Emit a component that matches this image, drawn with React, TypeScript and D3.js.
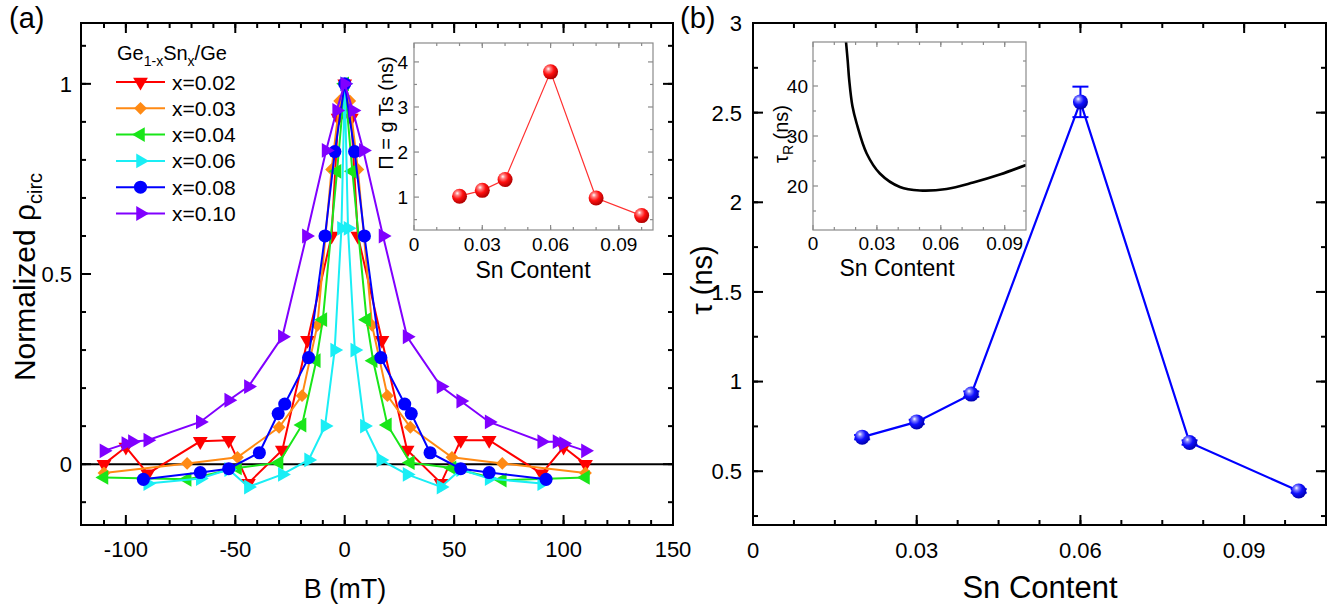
import React from 'react';
import * as d3 from 'd3';

// panel (a): field values (mT) and normalized rho_circ per Sn content
const bX02 = [-110, -100, -90, -66, -53, -44, -28.5, -17, -6, -3, 0, 3, 6, 17, 28.5, 44, 53, 66, 90, 100, 110];
const vX02 = [0, 0.045, -0.025, 0.06, 0.063, -0.05, 0.037, 0.326, 0.6, 0.91, 1.0, 0.91, 0.6, 0.326, 0.037, -0.05, 0.063, 0.063, -0.025, 0.045, 0];
const bX03 = [-110, -72, -49, -30, -19.5, -12.5, -6, -2.3, 0, 2.3, 6, 12.5, 19.5, 30, 49, 72, 110];
const vX03 = [-0.023, 0.002, 0.018, 0.097, 0.18, 0.365, 0.775, 0.955, 1.0, 0.955, 0.775, 0.365, 0.18, 0.097, 0.018, 0.002, -0.023];
const bX04 = [-110, -72, -49, -30, -19.5, -13, -10, -3.5, 0, 3.5, 10, 13, 19.5, 30, 49, 72, 110];
const vX04 = [-0.035, -0.04, -0.01, 0.004, 0.103, 0.272, 0.38, 0.77, 1.0, 0.77, 0.38, 0.272, 0.103, 0.004, -0.01, -0.042, -0.035];
const bX06 = [-90, -66, -53, -44, -28.5, -16.5, -9, -4.6, -1.5, 0, 1.5, 4.6, 9, 16.5, 28.5, 44, 53, 66, 90];
const vX06 = [-0.051, -0.038, -0.014, -0.06, -0.027, 0.011, 0.1, 0.3, 0.62, 1.0, 0.62, 0.3, 0.1, 0.011, -0.027, -0.06, -0.014, -0.038, -0.051];
const bX08 = [-92, -66, -53, -39, -30.4, -27.4, -16.5, -9, -4.5, 0, 4.5, 9, 16.5, 27.4, 30.4, 39, 53, 66, 92];
const vX08 = [-0.04, -0.022, -0.012, 0.03, 0.133, 0.158, 0.28, 0.6, 0.822, 1.0, 0.822, 0.6, 0.28, 0.158, 0.133, 0.03, -0.012, -0.022, -0.04];
const bX10 = [-110, -100, -97, -90, -66, -53, -44, -28.5, -17.5, -8.5, -3.7, 0, 3.7, 8.5, 17.5, 28.5, 44, 53, 66, 90, 97, 100, 110];
const vX10 = [0.035, 0.054, 0.059, 0.063, 0.111, 0.168, 0.204, 0.335, 0.6, 0.825, 0.93, 1.0, 0.93, 0.825, 0.6, 0.335, 0.204, 0.166, 0.111, 0.059, 0.059, 0.054, 0.035];

const legendNames = ['x=0.02', 'x=0.03', 'x=0.04', 'x=0.06', 'x=0.08', 'x=0.10'];

// inset (a)
const snContent = [0.02, 0.03, 0.04, 0.06, 0.08, 0.1];
const gammaTs = [1.02, 1.15, 1.39, 3.78, 0.98, 0.59];

// panel (b)
const tau = [0.69, 0.775, 0.93, 2.56, 0.66, 0.39];
const tauErr = [0.012, 0.012, 0.015, 0.085, 0.012, 0.01];

// inset (b) curve
const snR = [0.0155, 0.0163, 0.017, 0.0185, 0.0205, 0.0252, 0.0314, 0.0408, 0.0502, 0.0627, 0.0752, 0.0877, 0.1];
const tauR = [48.8, 45, 41.2, 36, 32.5, 26.5, 22.5, 19.8, 19.1, 19.4, 20.7, 22.3, 24.2];

// tick labels
const aXTicks = [-100, -50, 0, 50, 100, 150];
const aYTicks = [0, 0.5, 1];
const aYLabels = ['0', '0.5', '1'];
const snTicks = [0, 0.03, 0.06, 0.09];
const snLabels = ['0', '0.03', '0.06', '0.09'];
const bYTicks = [0.5, 1, 1.5, 2, 2.5, 3];
const bYLabels = ['0.5', '1', '1.5', '2', '2.5', '3'];
const iaYTicks = [1, 2, 3, 4];
const ibYTicks = [20, 30, 40];

const FONT = '"Liberation Sans", Arial, sans-serif';

const xA = d3.scaleLinear().domain([-120.5, 150]).range([81, 673]);
const yA = d3.scaleLinear().domain([-0.16, 1.16]).range([525, 23]);
const xIA = d3.scaleLinear().domain([0, 0.105]).range([414, 653]);
const yIA = d3.scaleLinear().domain([0.27, 4.42]).range([230, 43]);
const xB = d3.scaleLinear().domain([0, 0.105]).range([753, 1326]);
const yB = d3.scaleLinear().domain([0.2, 3.0]).range([525, 23]);
const xIB = d3.scaleLinear().domain([0, 0.1]).range([813, 1026]);
const yIB = d3.scaleLinear().domain([11.2, 48.8]).range([230, 42]);

const tri = d3.symbol(d3.symbolTriangle, 95)();
const dia = d3.symbol(d3.symbolSquare, 82)();
const circ = d3.symbol(d3.symbolCircle, 135)();

const series = [
  { b: bX02, v: vX02, color: '#ff0000', path: tri, rot: 180 },
  { b: bX03, v: vX03, color: '#ff8a14', path: dia, rot: 45 },
  { b: bX04, v: vX04, color: '#19e619', path: tri, rot: -90 },
  { b: bX06, v: vX06, color: '#1aeef5', path: tri, rot: 90 },
  { b: bX08, v: vX08, color: '#0000ff', path: circ, rot: 0 },
  { b: bX10, v: vX10, color: '#8000ff', path: tri, rot: 90 },
];

const Frame = ({ x, y, xMaj, xMin, yMaj, yMin, xLab, yLab, stroke, sw, majL, minL, fs, xLabY, yLabX }) => {
  const [x0, x1] = x.range();
  const [y0, y1] = y.range();
  const tk = { stroke, strokeWidth: sw };
  return (
    <g fontFamily={FONT}>
      <rect x={x0} y={y1} width={x1 - x0} height={y0 - y1} fill="none" stroke={stroke} strokeWidth={sw} />
      {xMin.map((v, i) => (
        <g key={'xm' + i} {...tk}>
          <line x1={x(v)} x2={x(v)} y1={y0} y2={y0 - minL} />
          <line x1={x(v)} x2={x(v)} y1={y1} y2={y1 + minL} />
        </g>
      ))}
      {xMaj.map((v, i) => (
        <g key={'xM' + i} {...tk}>
          <line x1={x(v)} x2={x(v)} y1={y0} y2={y0 - majL} />
          <line x1={x(v)} x2={x(v)} y1={y1} y2={y1 + majL} />
        </g>
      ))}
      {yMin.map((v, i) => (
        <g key={'ym' + i} {...tk}>
          <line y1={y(v)} y2={y(v)} x1={x0} x2={x0 + minL} />
          <line y1={y(v)} y2={y(v)} x1={x1} x2={x1 - minL} />
        </g>
      ))}
      {yMaj.map((v, i) => (
        <g key={'yM' + i} {...tk}>
          <line y1={y(v)} y2={y(v)} x1={x0} x2={x0 + majL} />
          <line y1={y(v)} y2={y(v)} x1={x1} x2={x1 - majL} />
        </g>
      ))}
      {xMaj.map((v, i) => (
        <text key={'xl' + i} x={x(v)} y={xLabY} fontSize={fs} textAnchor="middle" fill="#000">{xLab[i]}</text>
      ))}
      {yMaj.map((v, i) => (
        <text key={'yl' + i} x={yLabX} y={y(v)} dy="0.36em" fontSize={fs} textAnchor="end" fill="#000">{yLab[i]}</text>
      ))}
    </g>
  );
};

const Sphere = ({ cx, cy, r, id }) => <circle cx={cx} cy={cy} r={r} fill={`url(#${id})`} />;

export default function App() {
  const lineA = d3.line<number>();
  const inLine = d3.line<number>().x((d, i) => xIA(snContent[i])).y((d) => yIA(d));
  const bLine = d3.line<number>().x((d, i) => xB(snContent[i])).y((d) => yB(d));
  const rLine = d3.line<number>().x((d, i) => xIB(snR[i])).y((d) => yIB(d)).curve(d3.curveCatmullRom.alpha(0.5));

  return (
    <div style={{ position: 'absolute', left: 0, top: 0 }}>
      <svg width={1340} height={611} style={{ display: 'block', background: '#fff' }}>
        <defs>
          <radialGradient id="sphRed" cx="38%" cy="35%" r="65%" fx="35%" fy="30%">
            <stop offset="0%" stopColor="#ffffff" />
            <stop offset="22%" stopColor="#ff8080" />
            <stop offset="55%" stopColor="#ff1010" />
            <stop offset="100%" stopColor="#b00000" />
          </radialGradient>
          <radialGradient id="sphBlue" cx="38%" cy="35%" r="65%" fx="35%" fy="30%">
            <stop offset="0%" stopColor="#ffffff" />
            <stop offset="22%" stopColor="#8080ff" />
            <stop offset="55%" stopColor="#1010ff" />
            <stop offset="100%" stopColor="#0000b0" />
          </radialGradient>
          <clipPath id="clipIB">
            <rect x={813} y={42} width={213} height={188} />
          </clipPath>
        </defs>

        {/* ---------- panel (a) ---------- */}
        <text x={9} y={28} fontSize={29} fontFamily={FONT}>(a)</text>
        <line x1={81} x2={673} y1={yA(0)} y2={yA(0)} stroke="#000" strokeWidth={2} />
        {series.map((s, k) => (
          <g key={k}>
            <path
              d={lineA(s.b.map((b, i) => [xA(b), yA(s.v[i])]) as any) || ''}
              fill="none"
              stroke={s.color}
              strokeWidth={2}
            />
            {s.b.map((b, i) => (
              <path key={i} d={s.path || ''} fill={s.color}
                transform={`translate(${xA(b)},${yA(s.v[i])}) rotate(${s.rot})`} />
            ))}
          </g>
        ))}
        <Frame x={xA} y={yA} xMaj={aXTicks} xMin={d3.range(-110, 150, 10)} yMaj={aYTicks}
          yMin={d3.range(-0.1, 1.15, 0.1)} xLab={aXTicks.map(String)}
          yLab={aYLabels} stroke="#000" sw={2} majL={10} minL={5} fs={22} xLabY={557} yLabX={72} />
        <text transform="translate(35,277) rotate(-90)" textAnchor="middle" fontSize={30} fontFamily={FONT}>
          Normalized ρ<tspan dy={7} fontSize={20}>circ</tspan>
        </text>
        <text x={345} y={598} textAnchor="middle" fontSize={27} fontFamily={FONT}>B (mT)</text>

        {/* legend */}
        <text x={117} y={60} fontSize={20} fontFamily={FONT}>
          Ge<tspan dy={6} fontSize={14}>1-x</tspan><tspan dy={-6}>Sn</tspan><tspan dy={6} fontSize={14}>x</tspan><tspan dy={-6}>/Ge</tspan>
        </text>
        {series.map((s, k) => {
          const yy = 82 + k * 26.3;
          return (
            <g key={'lg' + k}>
              <line x1={116} x2={165} y1={yy} y2={yy} stroke={s.color} strokeWidth={2} />
              <path d={s.path || ''} fill={s.color} transform={`translate(140.5,${yy}) rotate(${s.rot})`} />
              <text x={172} y={yy} dy="0.36em" fontSize={21} fontFamily={FONT}>{legendNames[k]}</text>
            </g>
          );
        })}

        {/* inset (a) */}
        <rect x={414} y={43} width={239} height={187} fill="#fff" />
        <path d={inLine(gammaTs) || ''} fill="none" stroke="#ff3030" strokeWidth={1.2} />
        {gammaTs.map((g, i) => (
          <Sphere key={i} cx={xIA(snContent[i])} cy={yIA(g)} r={7.5} id="sphRed" />
        ))}
        <Frame x={xIA} y={yIA} xMaj={snTicks} xMin={d3.range(0.01, 0.105, 0.01)} yMaj={iaYTicks}
          yMin={[0.5, 1.5, 2.5, 3.5]} xLab={snLabels} yLab={iaYTicks.map(String)} stroke="#8a8a8a" sw={1.2}
          majL={5} minL={3} fs={19} xLabY={251} yLabX={408} />
        <text transform="translate(393,113) rotate(-90)" textAnchor="middle" fontSize={20} fontFamily={FONT}>Π = g Ts (ns)</text>
        <text x={533} y={278} textAnchor="middle" fontSize={23} fontFamily={FONT}>Sn Content</text>

        {/* ---------- panel (b) ---------- */}
        <text x={680} y={28} fontSize={29} fontFamily={FONT}>(b)</text>
        <path d={bLine(tau) || ''} fill="none" stroke="#0000ff" strokeWidth={2.2} />
        {tau.map((t, i) => {
          const cx = xB(snContent[i]);
          const top = yB(t + tauErr[i]);
          const bot = yB(t - tauErr[i]);
          return (
            <g key={i} stroke="#0000ff" strokeWidth={2}>
              <line x1={cx} x2={cx} y1={top} y2={bot} />
              <line x1={cx - 8} x2={cx + 8} y1={top} y2={top} />
              <line x1={cx - 8} x2={cx + 8} y1={bot} y2={bot} />
            </g>
          );
        })}
        {tau.map((t, i) => (
          <Sphere key={'s' + i} cx={xB(snContent[i])} cy={yB(t)} r={7.5} id="sphBlue" />
        ))}
        <Frame x={xB} y={yB} xMaj={snTicks} xMin={d3.range(0.0075, 0.105, 0.0075)} yMaj={bYTicks}
          yMin={d3.range(0.25, 3, 0.25)} xLab={snLabels} yLab={bYLabels} stroke="#000" sw={2}
          majL={10} minL={5} fs={22} xLabY={558} yLabX={742} />
        <text transform="translate(712,280) rotate(-90)" textAnchor="middle" fontSize={29} fontFamily={FONT}>τ<tspan dx={8}>(ns)</tspan></text>
        <text x={1040} y={598} textAnchor="middle" fontSize={31} fontFamily={FONT}>Sn Content</text>

        {/* inset (b) */}
        <rect x={813} y={42} width={213} height={188} fill="#fff" />
        <path d={rLine(tauR) || ''} fill="none" stroke="#000" strokeWidth={2.6} clipPath="url(#clipIB)" />
        <Frame x={xIB} y={yIB} xMaj={snTicks} xMin={d3.range(0.01, 0.1, 0.01)} yMaj={ibYTicks}
          yMin={[15, 25, 35, 45]} xLab={snLabels} yLab={ibYTicks.map(String)} stroke="#8a8a8a" sw={1.2}
          majL={5} minL={3} fs={19} xLabY={250} yLabX={808} />
        <text transform="translate(788,134) rotate(-90)" textAnchor="middle" fontSize={20} fontFamily={FONT}>
          τ<tspan dy={5} fontSize={14}>R</tspan><tspan dy={-5}> (ns)</tspan>
        </text>
        <text x={897} y={276} textAnchor="middle" fontSize={23} fontFamily={FONT}>Sn Content</text>
      </svg>
    </div>
  );
}
